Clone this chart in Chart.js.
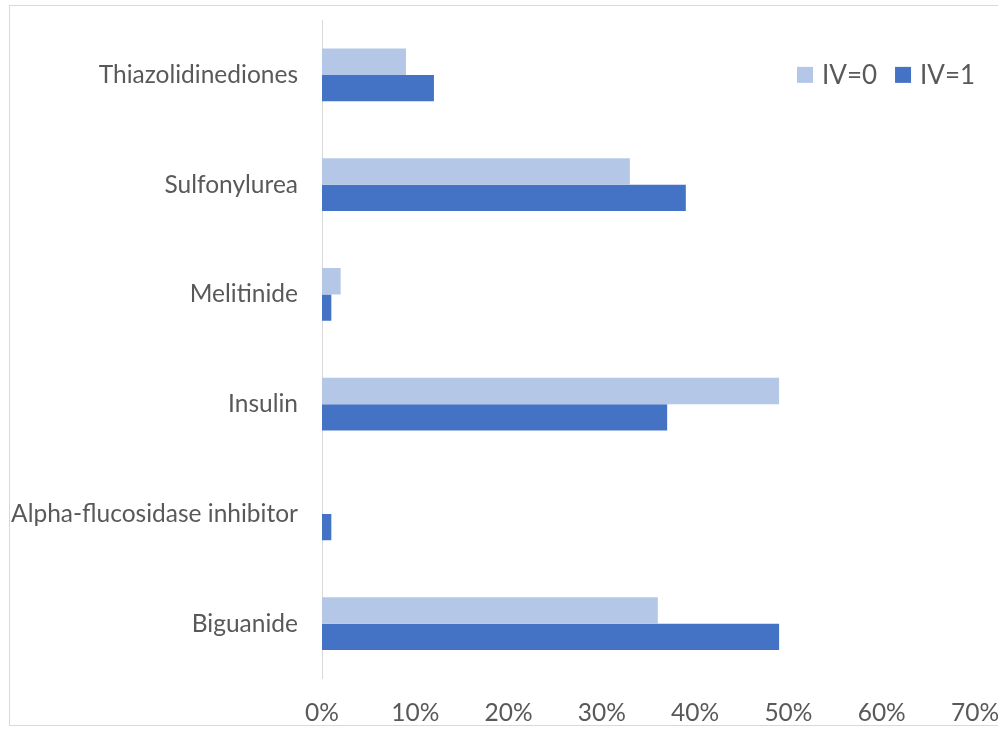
<!DOCTYPE html>
<html>
<head>
<meta charset="utf-8">
<script src="https://cdn.jsdelivr.net/npm/chart.js@4"></script>
<style>
  body { margin: 0; background: #fff; }
  #frame {
    position: absolute; left: 9px; top: 5px; width: 1000px; height: 721px;
    border: 1px solid #d9d9d9; box-sizing: border-box;
  }
  #wrap { position: absolute; left: 0; top: 0; width: 998px; height: 729px; }
</style>
</head>
<body>
<div id="frame"></div>
<div id="wrap"><canvas id="drugChart"></canvas></div>
<script>
const categories = ['Thiazolidinediones', 'Sulfonylurea', 'Melitinide', 'Insulin', 'Alpha-flucosidase inhibitor', 'Biguanide'];
const iv0 = [9, 33, 2, 49, 0, 36];
const iv1 = [12, 39, 1, 37, 1, 49];
const xTicks = [0, 10, 20, 30, 40, 50, 60, 70];

const fontFamily = "Lato, 'Open Sans', sans-serif";
const textColor = '#595959';

// legend drawn in the upper right corner of the plot area, level with the first row
const cornerLegend = {
  id: 'cornerLegend',
  afterDraw(chart) {
    const c = chart.ctx;
    const area = chart.chartArea;
    let x = area.right - 178;
    const y = chart.scales.y.getPixelForValue(0);
    c.save();
    c.font = '26px ' + fontFamily;
    c.textBaseline = 'middle';
    chart.data.datasets.forEach(ds => {
      c.fillStyle = ds.backgroundColor;
      c.fillRect(x, y - 8, 16, 16);
      c.fillStyle = textColor;
      c.fillText(ds.label, x + 25, y + 1);
      x += 25 + c.measureText(ds.label).width + 18;
    });
    c.restore();
  }
};

const ctx = document.getElementById('drugChart').getContext('2d');
new Chart(ctx, {
  type: 'bar',
  data: {
    labels: categories,
    datasets: [
      { label: 'IV=0', data: iv0, backgroundColor: '#b4c7e7' },
      { label: 'IV=1', data: iv1, backgroundColor: '#4472c4' }
    ]
  },
  options: {
    indexAxis: 'y',
    responsive: true,
    maintainAspectRatio: false,
    animation: false,
    layout: { padding: { left: 0, top: 20, right: 23, bottom: -11 } },
    datasets: { bar: { categoryPercentage: 0.48, barPercentage: 1.0 } },
    plugins: {
      tooltip: { enabled: false },
      legend: { display: false }
    },
    scales: {
      x: {
        min: 0, max: 70,
        afterBuildTicks: axis => { axis.ticks = xTicks.map(v => ({ value: v })); },
        afterFit: scale => { scale.paddingLeft = 0; scale.paddingRight = 0; },
        grid: { display: false },
        border: { display: false },
        ticks: {
          padding: 12,
          color: textColor,
          font: { family: fontFamily, size: 24.5 },
          callback: v => v + '%'
        }
      },
      y: {
        afterFit: scale => { scale.width = 322; scale.paddingTop = 0; scale.paddingBottom = 0; },
        grid: { display: false, drawTicks: false },
        border: { display: true, color: '#d9d9d9', width: 1 },
        ticks: {
          padding: 24,
          color: textColor,
          font: { family: fontFamily, size: 24.5 }
        }
      }
    }
  },
  plugins: [cornerLegend]
});
</script>
</body>
</html>
